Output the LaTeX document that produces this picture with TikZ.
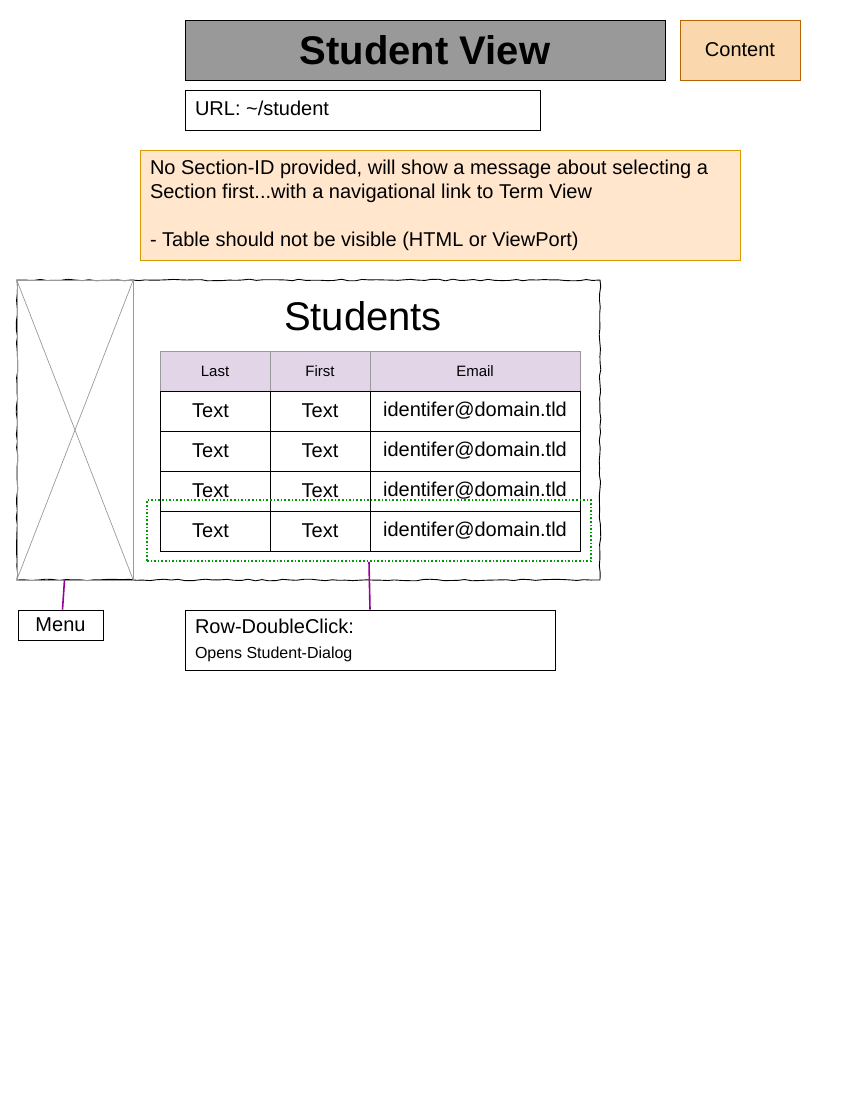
\documentclass[tikz,border=0pt]{standalone}
\usepackage{fontspec}
\setmainfont{Liberation Sans}
\usetikzlibrary{positioning, decorations.pathmorphing}
\definecolor{titlegray}{HTML}{999999}
\definecolor{contentfill}{HTML}{FAD7AC}
\definecolor{contentdraw}{HTML}{B46504}
\definecolor{notefill}{HTML}{FFE6CC}
\definecolor{notedraw}{HTML}{D79B00}
\definecolor{hdrfill}{HTML}{E1D5E7}
\definecolor{selgreen}{HTML}{009900}
\definecolor{linkpurple}{HTML}{990099}
\tikzset{link/.style={draw=linkpurple, line width=1.6pt}}

\begin{document}
\begin{tikzpicture}
        [
            x=1pt, y=-1pt,
            box/.style={rectangle, draw=black, line width=0.9pt, inner sep=0pt},
            cell/.style={box, minimum height=40pt, font=\fontsize{20}{24}\selectfont},
            hdr/.style={box, draw=titlegray, fill=hdrfill, minimum height=40pt, font=\fontsize{15}{18}\selectfont},
        ]
    \useasboundingbox (0,0) rectangle (850,1100);

    % header of the page
    \node[box, fill=titlegray, minimum width=480pt, minimum height=60pt,
          font=\fontsize{40}{48}\selectfont\bfseries] (title) at (425,50) {Student View};
    \node[box, draw=contentdraw, fill=contentfill, minimum width=120pt, minimum height=60pt,
          font=\fontsize{20}{24}\selectfont] (content) at (740,50) {Content};
    \node[box, minimum width=355pt, minimum height=40pt, text width=335pt, align=flush left,
          font=\fontsize{20}{24}\selectfont] (url) at (362.5,110) {\raisebox{4pt}{URL: \textasciitilde/student}};
    \node[box, draw=notedraw, fill=notefill, minimum width=600pt, minimum height=110pt,
          text width=580pt, align=flush left, font=\fontsize{20}{24}\selectfont] (note) at (440,205)
          {No Section-ID provided, will show a message about selecting a\\
           Section first...with a navigational link to Term View\\[24pt]
           - Table should not be visible (HTML or ViewPort)};

    % wireframe
    \pgfmathsetseed{7}
    \node[box, minimum width=583pt, minimum height=300pt,
          decorate, decoration={random steps, segment length=7pt, amplitude=0.8pt}] (wire) at (308.5,430) {};
    \node[box, draw=titlegray, minimum width=116pt, minimum height=300pt] (imgph) at (75,430) {};
    \draw[titlegray, line width=0.7pt] (imgph.north west) -- (imgph.south east);
    \draw[titlegray, line width=0.7pt] (imgph.north east) -- (imgph.south west);
    \node[font=\fontsize{40}{48}\selectfont] (heading) at (363,316) {Students};

    % table
    \node[hdr, minimum width=110pt] (hlast) at (215,371) {Last};
    \node[hdr, minimum width=100pt] (hfirst) at (320,371) {First};
    \node[hdr, minimum width=210pt] (hemail) at (475,371) {Email};
    \foreach \r in {1,...,4}{
        \node[cell, minimum width=110pt] (last\r) at (215,{371+40*\r}) {Text\kern9pt};
        \node[cell, minimum width=100pt] (first\r) at (320,{371+40*\r}) {Text};
        \node[cell, minimum width=210pt] (email\r) at (475,{371+40*\r}) {identifer@domain.tld};
    }
    \node[rectangle, draw=selgreen, dotted, line width=1.6pt, minimum width=444pt,
          minimum height=61pt] (selrow) at (369,530.5) {};

    % annotations
    \node[box, minimum width=85pt, minimum height=30pt, font=\fontsize{20}{24}\selectfont] (menu) at (60.5,625) {Menu};
    \node[box, minimum width=370pt, minimum height=60pt, text width=350pt, align=flush left,
          font=\fontsize{20}{25}\selectfont] (dbl) at (370,640)
          {Row-DoubleClick:\\{\fontsize{16}{18}\selectfont Opens Student-Dialog}};
    \coordinate (menuend) at (64.5,580);

    \draw[link] (menuend) -- ([xshift=2pt]menu.north);
    \draw[link] (selrow.south) -- (dbl.north);
    \end{tikzpicture}
\end{document}
